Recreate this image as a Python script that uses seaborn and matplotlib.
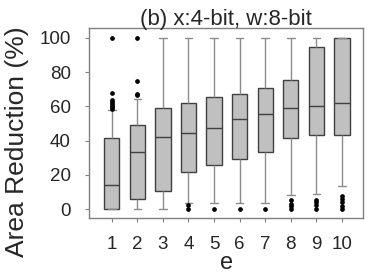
import pandas as pd
import matplotlib
matplotlib.use('Agg')
import matplotlib.pyplot as plt
import seaborn as sns

# five-number summary per e
e_values = [1, 2, 3, 4, 5, 6, 7, 8, 9, 10]
whis_low = [0, 0, 0, 3.7, 3.5, 3.7, 3.7, 8.2, 8.8, 13.4]
q1 = [0, 6.0, 10.5, 21.8, 26.0, 29.2, 33.1, 41.3, 43.2, 43.2]
median = [14.0, 33.1, 42.0, 44.2, 47.1, 52.5, 55.8, 58.8, 60.3, 61.7]
q3 = [41.4, 49.4, 58.8, 61.7, 65.2, 67.5, 71.0, 75.5, 94.4, 100]
whis_high = [57.8, 64.2, 100, 100, 100, 100, 100, 100, 100, 100]

# outliers per e
outliers = {
    1: [58.5, 59.5, 60.5, 61.5, 62.5, 63.5, 68, 100],
    2: [66.5, 67.5, 75, 100],
    3: [],
    4: [2.5, 0],
    5: [0],
    6: [0],
    7: [0],
    8: [0, 1.8, 3.3, 5.3],
    9: [0, 2.2, 4, 5.5],
    10: [0, 2, 4, 6, 8],
}

rows = []
for i, e in enumerate(e_values):
    for v in [whis_low[i], q1[i], median[i], q3[i], whis_high[i]]:
        rows.append({'e': str(e), 'val': v})
df = pd.DataFrame(rows)

out_rows = [{'e': str(e), 'val': v} for e in e_values for v in outliers[e]]
df_out = pd.DataFrame(out_rows)

sns.set_style('white')
plt.rcParams['font.family'] = ['Liberation Sans', 'DejaVu Sans']

fig = plt.figure(figsize=(3.74, 2.75), dpi=100)
ax = fig.add_axes([0.239, 0.209, 0.732, 0.689])

order = [str(e) for e in e_values]
sns.boxplot(data=df, x='e', y='val', order=order, whis=(0, 100), width=0.6,
            showfliers=False, color='#c0c0c0', linecolor='#404040', linewidth=1.0,
            saturation=1,
            whiskerprops={'color': '#8c8c8c'}, capprops={'color': '#8c8c8c'},
            medianprops={'color': '#404040'}, ax=ax)
sns.stripplot(data=df_out, x='e', y='val', order=order, jitter=False,
              color='black', size=3.4, ax=ax)

ax.set_xlim(-0.875, 9.83)
ax.set_ylim(-4.85, 105.7)
ax.set_yticks([0, 20, 40, 60, 80, 100])
ax.set_title('(b) x:4-bit, w:8-bit', fontsize=16, pad=2)
ax.set_xlabel('e', fontsize=17)
ax.set_ylabel('Area Reduction (%)', fontsize=19)
ax.yaxis.set_label_coords(-0.22, 0.40)
ax.xaxis.set_label_coords(0.5, -0.182)
ax.tick_params(axis='both', labelsize=13.5, length=3, color='#808080',
               bottom=True, left=True)
ax.tick_params(axis='x', pad=10)
ax.tick_params(axis='y', pad=10.5)
for s in ax.spines.values():
    s.set_color('#808080')
    s.set_linewidth(1.0)

fig.savefig('out.png', dpi=100)
